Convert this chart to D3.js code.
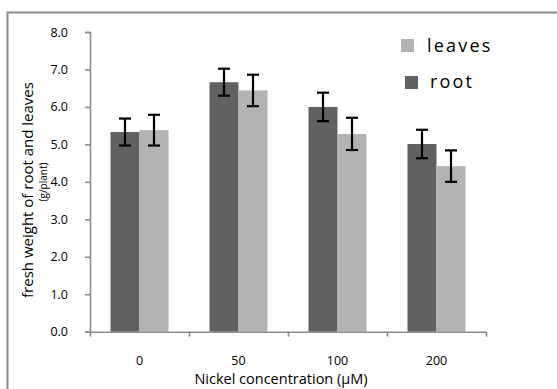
<!DOCTYPE html>
<html>
<head>
<meta charset="utf-8">
<script src="https://cdn.jsdelivr.net/npm/d3@7/dist/d3.min.js"></script>
<style>
  html, body { margin: 0; padding: 0; background: #fff; }
  svg { display: block; }
  text { font-family: "Open Sans", "Noto Sans", sans-serif; fill: #000; }
</style>
</head>
<body>
<svg id="chart" width="557" height="389"></svg>
<script>
// Fresh weight (g/plant) by nickel concentration
const categories = ["0", "50", "100", "200"];
const seriesNames = ["root", "leaves"];
const rootValues = [5.33, 6.66, 6.00, 5.01];
const rootErrors = [0.36, 0.36, 0.38, 0.38];
const leavesValues = [5.38, 6.44, 5.28, 4.42];
const leavesErrors = [0.41, 0.42, 0.43, 0.42];
const yTicks = [0, 1, 2, 3, 4, 5, 6, 7, 8];

const colors = { root: "#616161", leaves: "#b3b3b3" };

const svg = d3.select("#chart");

// outer frame
svg.append("rect")
  .attr("x", 7.5).attr("y", 12.5)
  .attr("width", 600).attr("height", 420)
  .attr("fill", "none").attr("stroke", "#8c8c8c").attr("stroke-width", 2);

const plot = { left: 90, right: 486, top: 32, bottom: 331.7 };

const y = d3.scaleLinear().domain([0, 8]).range([plot.bottom, plot.top]);
const x = d3.scaleBand().domain(categories)
  .range([plot.left, plot.right])
  .paddingInner(0.414).paddingOuter(0.207);
const xs = d3.scaleBand().domain(seriesNames).range([0, x.bandwidth()]);
const xEdge = d3.scaleLinear().domain([0, categories.length]).range([plot.left, plot.right]);

const rows = categories.map((c, i) => ({
  cat: c,
  items: [
    { name: "root", value: rootValues[i], err: rootErrors[i] },
    { name: "leaves", value: leavesValues[i], err: leavesErrors[i] }
  ]
}));

// bars
const groups = svg.append("g").selectAll("g").data(rows).join("g")
  .attr("transform", d => `translate(${x(d.cat)},0)`);

groups.selectAll("rect").data(d => d.items).join("rect")
  .attr("x", d => xs(d.name))
  .attr("y", d => y(d.value))
  .attr("width", xs.bandwidth())
  .attr("height", d => y(0) - y(d.value))
  .attr("fill", d => colors[d.name]);

// error bars
const eb = groups.selectAll("g.err").data(d => d.items).join("g").attr("class", "err")
  .attr("stroke", "#000").attr("stroke-width", 2.2);
eb.append("line")
  .attr("x1", d => xs(d.name) + xs.bandwidth() / 2)
  .attr("x2", d => xs(d.name) + xs.bandwidth() / 2)
  .attr("y1", d => y(d.value + d.err))
  .attr("y2", d => y(d.value - d.err));
[1, -1].forEach(s => {
  eb.append("line")
    .attr("x1", d => xs(d.name) + xs.bandwidth() / 2 - 6)
    .attr("x2", d => xs(d.name) + xs.bandwidth() / 2 + 6)
    .attr("y1", d => y(d.value + s * d.err))
    .attr("y2", d => y(d.value + s * d.err));
});

// y axis
const yAxis = svg.append("g")
  .attr("transform", `translate(${plot.left},0)`)
  .call(d3.axisLeft(y).tickValues(yTicks).tickFormat(d3.format(".1f")).tickSize(5).tickPadding(17));
yAxis.selectAll("text").attr("font-size", 12.5).attr("font-family", "Open Sans");

// x axis: tick marks at category boundaries
svg.append("g")
  .attr("transform", `translate(0,${plot.bottom})`)
  .call(d3.axisBottom(xEdge).tickValues(d3.range(categories.length + 1)).tickFormat("").tickSize(5).tickSizeOuter(0));

// x axis: category labels
const xAxisLabels = svg.append("g")
  .attr("transform", `translate(0,${plot.bottom})`)
  .call(d3.axisBottom(x).tickSize(0).tickPadding(24));
xAxisLabels.select(".domain").remove();
xAxisLabels.selectAll("text").attr("font-size", 12.5).attr("font-family", "Open Sans");

svg.selectAll(".domain, .tick line").attr("stroke", "#8c8c8c").attr("stroke-width", 1.6);

// axis titles
svg.append("text")
  .attr("x", 281).attr("y", 384)
  .attr("text-anchor", "middle")
  .attr("font-size", 14.5)
  .text("Nickel concentration (\u03BCM)");

svg.append("text")
  .attr("transform", "translate(33,190) rotate(-90)")
  .attr("text-anchor", "middle")
  .attr("font-size", 15)
  .text("fresh weight of root and leaves");

svg.append("text")
  .attr("transform", "translate(47,182) rotate(-90)")
  .attr("text-anchor", "middle")
  .attr("font-size", 10)
  .text("(g/plant)");

// legend
const legend = [
  { name: "leaves", sx: 401, sy: 39, tx: 427, ty: 52 },
  { name: "root", sx: 405, sy: 76, tx: 430, ty: 88 }
];
const lg = svg.append("g");
lg.selectAll("rect").data(legend).join("rect")
  .attr("x", d => d.sx).attr("y", d => d.sy)
  .attr("width", 13).attr("height", 13)
  .attr("fill", d => colors[d.name]);
lg.selectAll("text").data(legend).join("text")
  .attr("x", d => d.tx).attr("y", d => d.ty)
  .attr("font-size", 18)
  .attr("letter-spacing", 2.2)
  .text(d => d.name);
</script>
</body>
</html>
